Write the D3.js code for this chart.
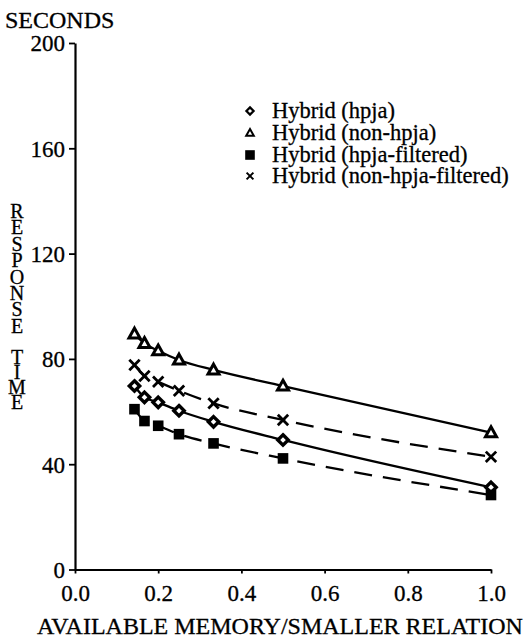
<!DOCTYPE html>
<html>
<head>
<meta charset="utf-8">
<script src="https://cdn.jsdelivr.net/npm/d3@7"></script>
<style>
  html, body { margin: 0; padding: 0; background: #fff; }
  svg { display: block; }
  text { font-family: "Liberation Serif", "DejaVu Serif", "Times New Roman", serif; fill: #000; stroke: #000; stroke-width: 0.3px; }
</style>
</head>
<body>
<svg id="chart" width="530" height="641"></svg>
<script>
// ---- data ----
const memoryRatio = [0.143, 0.167, 0.2, 0.25, 0.333, 0.5, 1.0];
const hybridHpja = [69.7, 65.4, 63.5, 60.3, 56.1, 49.2, 31.2];
const hybridNonHpja = [89.5, 85.9, 83.1, 79.6, 75.8, 69.7, 52.0];
const hybridHpjaFiltered = [60.9, 56.4, 54.6, 51.4, 47.9, 42.2, 28.3];
const hybridNonHpjaFiltered = [77.7, 73.5, 71.3, 67.9, 63.1, 56.8, 42.8];
const seriesNames = ["Hybrid (hpja)", "Hybrid (non-hpja)", "Hybrid (hpja-filtered)", "Hybrid (non-hpja-filtered)"];
const xTicks = [0.0, 0.2, 0.4, 0.6, 0.8, 1.0];
const yTicks = [0, 40, 80, 120, 160, 200];
const xTitle = "AVAILABLE MEMORY/SMALLER RELATION";
const yUnit = "SECONDS";
const yTitleWords = ["RESPONSE", "TIME"];

const series = [
  { name: seriesNames[0], values: hybridHpja, marker: "diamond", dashed: false },
  { name: seriesNames[1], values: hybridNonHpja, marker: "triangle", dashed: false },
  { name: seriesNames[2], values: hybridHpjaFiltered, marker: "square", dashed: true },
  { name: seriesNames[3], values: hybridNonHpjaFiltered, marker: "cross", dashed: true }
];

const FONT = "'Liberation Serif', 'DejaVu Serif', 'Times New Roman', serif";
const svg = d3.select("#chart");
const x = d3.scaleLinear().domain([0, 1]).range([75, 491]);
const y = d3.scaleLinear().domain([0, 200]).range([569.5, 43]);

// axes
const yAxis = svg.append("g").attr("transform", `translate(${x(0)},0)`)
  .call(d3.axisLeft(y).tickValues(yTicks).tickSize(6).tickSizeOuter(0).tickPadding(4).tickFormat(d3.format("d")));
const xAxis = svg.append("g").attr("transform", `translate(0,${y(0)})`)
  .call(d3.axisBottom(x).tickValues(xTicks).tickSize(4).tickSizeOuter(0).tickPadding(10).tickFormat(d3.format(".1f")));
[xAxis, yAxis].forEach(g => {
  g.attr("font-family", FONT).attr("font-size", 23);
  g.selectAll("path.domain").attr("stroke", "#000").attr("stroke-width", 2.2);
  g.selectAll(".tick line").attr("stroke", "#000").attr("stroke-width", 1.8);
  g.selectAll(".tick text").style("font-family", FONT).style("font-size", "23px").attr("fill", "#000");
});
yAxis.selectAll(".tick text").attr("dy", "0.34em");
xAxis.selectAll(".tick text").attr("dy", "0.76em");

// titles
svg.append("text").attr("x", 5).attr("y", 28).style("font-size", "24px").text(yUnit);
svg.append("text").attr("x", 280).attr("y", 634).attr("text-anchor", "middle")
  .style("font-size", "24px").text(xTitle);

// stacked vertical y title (one text per word, letters as tspans)
const startBase = [218, 364];
const pitch = [16.4, 15];
yTitleWords.forEach((w, wi) => {
  const t = svg.append("text").attr("x", 17).attr("y", startBase[wi])
    .attr("text-anchor", "middle").style("font-size", "20px");
  w.split("").forEach((ch, i) => {
    t.append("tspan").attr("x", 17).attr("dy", i === 0 ? 0 : pitch[wi]).text(ch);
  });
});

// markers
function drawMarker(g, type, cx, cy, s, sw) {
  if (type === "diamond") {
    g.append("path").attr("d", `M${cx},${cy - s}L${cx + s},${cy}L${cx},${cy + s}L${cx - s},${cy}Z`)
      .attr("fill", "#fff").attr("stroke", "#000").attr("stroke-width", sw);
  } else if (type === "triangle") {
    const h = s * 1.05;
    g.append("path").attr("d", `M${cx},${cy - h}L${cx + s},${cy + h * 0.7}L${cx - s},${cy + h * 0.7}Z`)
      .attr("fill", "#fff").attr("stroke", "#000").attr("stroke-width", sw).attr("stroke-linejoin", "miter");
  } else if (type === "square") {
    g.append("rect").attr("x", cx - s).attr("y", cy - s).attr("width", 2 * s).attr("height", 2 * s).attr("fill", "#000");
  } else if (type === "cross") {
    g.append("path").attr("d", `M${cx - s},${cy - s}L${cx + s},${cy + s}M${cx - s},${cy + s}L${cx + s},${cy - s}`)
      .attr("stroke", "#000").attr("stroke-width", sw).attr("fill", "none");
  }
}

const line = d3.line().x(d => x(d[0])).y(d => y(d[1])).curve(d3.curveMonotoneX);
series.forEach(s => {
  const pts = memoryRatio.map((m, i) => [m, s.values[i]]);
  svg.append("path").datum(pts).attr("d", line).attr("fill", "none").attr("stroke", "#000")
    .attr("stroke-width", 2.3).attr("stroke-dasharray", s.dashed ? "18,11" : null);
});
const markSize = { diamond: 5.2, triangle: 5.5, square: 5.3, cross: 5.2 };
const markStroke = { diamond: 3.4, triangle: 3.0, square: 0, cross: 2.8 };
series.forEach(s => {
  const g = svg.append("g");
  memoryRatio.forEach((m, i) => drawMarker(g, s.marker, x(m), y(s.values[i]), markSize[s.marker], markStroke[s.marker]));
});

// legend
const legend = svg.append("g");
const legendBase = [118, 140, 162, 183];
const legendSize = { diamond: 3.6, triangle: 3.8, square: 4.8, cross: 3.4 };
const legendStroke = { diamond: 2.2, triangle: 2.0, square: 0, cross: 2.0 };
series.forEach((s, i) => {
  drawMarker(legend, s.marker, 250, legendBase[i] - 7, legendSize[s.marker], legendStroke[s.marker]);
  legend.append("text").attr("x", 272).attr("y", legendBase[i]).style("font-size", "22.5px").text(s.name);
});
</script>
</body>
</html>
